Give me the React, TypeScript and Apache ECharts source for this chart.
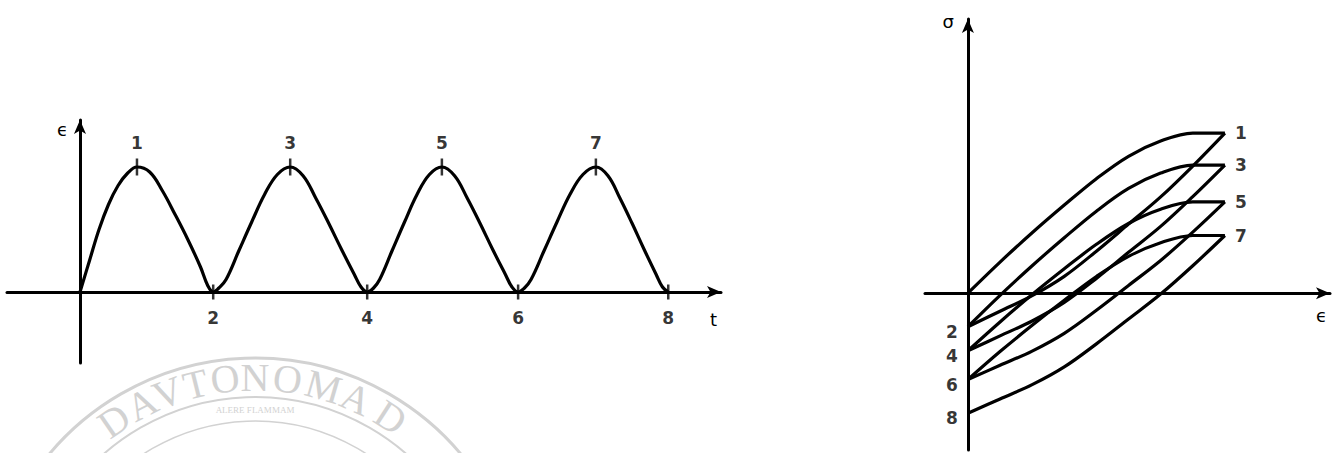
import React, { useEffect, useRef } from "react";
import * as echarts from "echarts";

// ---- strain history ϵ(t) with numbered reversal points ----
const strainT = [
  0, 0.123, 0.247, 0.37, 0.493, 0.617, 0.74,
  0.905, 1.07, 1.235, 1.4, 1.565, 1.66, 1.73,
  1.8, 1.897, 2.063, 2.23, 2.397, 2.563, 2.73,
  2.897, 3.063, 3.23, 3.397, 3.563, 3.65, 3.73,
  3.81, 3.892, 4.053, 4.215, 4.377, 4.538, 4.7,
  4.865, 5.03, 5.195, 5.36, 5.525, 5.61, 5.69,
  5.77, 5.858, 6.027, 6.195, 6.363, 6.532, 6.7,
  6.857, 7.013, 7.17, 7.327, 7.483, 7.565, 7.64,
];
const strainEps = [
  0, 0.25, 0.5, 0.7, 0.85, 0.95, 1.0,
  0.96, 0.81, 0.62, 0.42, 0.2, 0.05, 0,
  0.03, 0.1, 0.33, 0.56, 0.78, 0.94, 1.0,
  0.93, 0.75, 0.55, 0.34, 0.14, 0.04, 0,
  0.03, 0.1, 0.33, 0.56, 0.78, 0.94, 1.0,
  0.93, 0.75, 0.55, 0.34, 0.14, 0.04, 0,
  0.03, 0.1, 0.33, 0.56, 0.78, 0.94, 1.0,
  0.93, 0.75, 0.55, 0.34, 0.14, 0.04, 0,
];
const peakT = [0.74, 2.73, 4.7, 6.7];
const peakEps = [1, 1, 1, 1];
const peakIds = ["1", "3", "5", "7"];
const valleyT = [1.73, 3.73, 5.69, 7.64];
const valleyEps = [0, 0, 0, 0];
const valleyIds = ["2", "4", "6", "8"];

// ---- stress–strain branches σ(ϵ) ----
const branchEps = [0, 0.125, 0.25, 0.375, 0.5, 0.625, 0.75, 0.875, 1];
const loading01 = [0, 0.194, 0.377, 0.55, 0.715, 0.855, 0.95, 1.0, 1.0];
const unload12 = [-0.21, -0.113, -0.016, 0.105, 0.262, 0.431, 0.601, 0.794, 1.0];
const reload23 = [-0.21, -0.014, 0.171, 0.346, 0.512, 0.654, 0.75, 0.8, 0.8];
const unload34 = [-0.36, -0.267, -0.174, -0.058, 0.092, 0.255, 0.417, 0.603, 0.8];
const reload45 = [-0.36, -0.18, -0.009, 0.152, 0.305, 0.435, 0.524, 0.57, 0.57];
const unload56 = [-0.54, -0.451, -0.362, -0.251, -0.107, 0.048, 0.204, 0.381, 0.57];
const reload67 = [-0.54, -0.365, -0.201, -0.045, 0.104, 0.23, 0.315, 0.36, 0.36];
const unload78 = [-0.75, -0.661, -0.572, -0.461, -0.317, -0.162, -0.006, 0.171, 0.36];

const tipEps = [1, 1, 1, 1];
const tipSigma = [1.0, 0.8, 0.57, 0.36];
const tipIds = ["1", "3", "5", "7"];
const restEps = [0, 0, 0, 0];
const restSigma = [-0.21, -0.36, -0.54, -0.75];
const restIds = ["2", "4", "6", "8"];

// ---- faint university seal printed behind the figure ----
const sealLetters = ["D", "A", "V", "T", "O", "N", "O", "M", "A", "D"];
const sealAngles = [-34.5, -27, -20.5, -13.8, -6.9, 0, 7.5, 16, 24, 33];

const INK = "#000000";
const SEAL = "#d2d2d2";
const labelFont = {
  color: INK,
  fontFamily: "DejaVu Sans",
  fontWeight: "bold" as const,
  fontSize: 17,
  textBorderWidth: 0,
};

function pairs(xs: number[], ys: number[]) {
  return xs.map((x, i) => [x, ys[i]]);
}

function branch(name: string, ys: number[]) {
  return {
    name,
    type: "line",
    xAxisIndex: 1,
    yAxisIndex: 1,
    data: pairs(branchEps, ys),
    smooth: 0.35,
    showSymbol: false,
    symbol: "none",
    lineStyle: { color: INK, width: 3.2 },
    z: 3,
  };
}

function sealGraphics() {
  const cx = 255;
  const cy = 626;
  const items: any[] = [
    { type: "circle", z: -10, shape: { cx, cy, r: 268 }, style: { fill: "none", stroke: SEAL, lineWidth: 3 } },
    { type: "circle", z: -10, shape: { cx, cy, r: 229 }, style: { fill: "none", stroke: SEAL, lineWidth: 2 } },
    { type: "circle", z: -10, shape: { cx, cy, r: 205 }, style: { fill: "none", stroke: SEAL, lineWidth: 1.5 } },
  ];
  sealLetters.forEach((ch, i) => {
    const a = (sealAngles[i] * Math.PI) / 180;
    items.push({
      type: "text",
      z: -10,
      x: cx + 249 * Math.sin(a),
      y: cy - 249 * Math.cos(a),
      rotation: -a,
      style: {
        text: ch,
        fill: SEAL,
        font: '40px "Liberation Serif"',
        textAlign: "center",
        textVerticalAlign: "middle",
        align: "center",
        verticalAlign: "middle",
      },
    });
  });
  items.push({
    type: "text",
    z: -10,
    x: cx,
    y: 410,
    style: {
      text: "ALERE FLAMMAM",
      fill: SEAL,
      font: '9px "Liberation Serif"',
      textAlign: "center",
      textVerticalAlign: "middle",
      align: "center",
      verticalAlign: "middle",
    },
  });
  return items;
}

export default function App() {
  const ref = useRef<HTMLDivElement>(null);

  useEffect(() => {
    if (!ref.current) return;
    const chart = echarts.init(ref.current, undefined, { renderer: "svg" });

    const axisLine = {
      show: true,
      onZero: true,
      symbol: ["none", "arrow"],
      symbolSize: [9, 14],
      lineStyle: { color: INK, width: 3 },
    };
    const hidden = {
      axisTick: { show: false },
      axisLabel: { show: false },
      splitLine: { show: false },
    };
    const nameFont = { color: INK, fontFamily: "DejaVu Sans", fontSize: 18 };

    chart.setOption({
      animation: false,
      backgroundColor: "#ffffff",
      grid: [
        { left: 7, top: 120, width: 714, height: 243 },
        { left: 925, top: 19, width: 405, height: 431 },
      ],
      xAxis: [
        {
          type: "value",
          gridIndex: 0,
          min: -0.948,
          max: 8.325,
          axisLine,
          ...hidden,
          name: "t",
          nameLocation: "end",
          nameGap: -4,
          nameTextStyle: { ...nameFont, align: "right", verticalAlign: "top", padding: [18, 0, 0, 0] },
        },
        {
          type: "value",
          gridIndex: 1,
          min: -0.167,
          max: 1.409,
          axisLine,
          ...hidden,
          name: "ϵ",
          nameLocation: "end",
          nameGap: -3,
          nameTextStyle: { ...nameFont, align: "right", verticalAlign: "top", padding: [13, 0, 0, 0] },
        },
      ],
      yAxis: [
        {
          type: "value",
          gridIndex: 0,
          min: -0.568,
          max: 1.376,
          axisLine,
          ...hidden,
          name: "ϵ",
          nameLocation: "end",
          nameGap: 0,
          nameTextStyle: { ...nameFont, align: "right", verticalAlign: "top", padding: [0, 12, 0, 0] },
        },
        {
          type: "value",
          gridIndex: 1,
          min: -0.98,
          max: 1.7125,
          axisLine,
          ...hidden,
          name: "σ",
          nameLocation: "end",
          nameGap: 7,
          nameTextStyle: { ...nameFont, align: "right", verticalAlign: "top", padding: [0, 14, 0, 0] },
        },
      ],
      graphic: sealGraphics(),
      series: [
        {
          name: "strain",
          type: "line",
          xAxisIndex: 0,
          yAxisIndex: 0,
          data: pairs(strainT, strainEps),
          smooth: 0.4,
          showSymbol: false,
          symbol: "none",
          lineStyle: { color: INK, width: 3.2 },
          z: 3,
        },
        {
          name: "peaks",
          type: "scatter",
          xAxisIndex: 0,
          yAxisIndex: 0,
          data: peakT.map((t, i) => [t, peakEps[i], peakIds[i]]),
          symbol: "rect",
          symbolSize: [2.5, 17],
          itemStyle: { color: INK },
          label: {
            show: true,
            position: "top",
            distance: 7,
            formatter: (p: any) => p.value[2],
            ...labelFont,
          },
          z: 4,
        },
        {
          name: "valleys",
          type: "scatter",
          xAxisIndex: 0,
          yAxisIndex: 0,
          data: valleyT.map((t, i) => [t, valleyEps[i], valleyIds[i]]),
          symbol: "rect",
          symbolSize: [2.5, 15],
          itemStyle: { color: INK },
          label: {
            show: true,
            position: "bottom",
            distance: 10,
            formatter: (p: any) => p.value[2],
            ...labelFont,
          },
          z: 4,
        },
        branch("loading 0-1", loading01),
        branch("unloading 1-2", unload12),
        branch("reloading 2-3", reload23),
        branch("unloading 3-4", unload34),
        branch("reloading 4-5", reload45),
        branch("unloading 5-6", unload56),
        branch("reloading 6-7", reload67),
        branch("unloading 7-8", unload78),
        {
          name: "tips",
          type: "scatter",
          xAxisIndex: 1,
          yAxisIndex: 1,
          data: tipEps.map((e, i) => [e, tipSigma[i], tipIds[i]]),
          symbolSize: 2,
          itemStyle: { color: "rgba(0,0,0,0)" },
          label: {
            show: true,
            position: "right",
            distance: 9,
            formatter: (p: any) => p.value[2],
            ...labelFont,
          },
          z: 4,
        },
        {
          name: "rests",
          type: "scatter",
          xAxisIndex: 1,
          yAxisIndex: 1,
          data: restEps.map((e, i) => [e, restSigma[i], restIds[i]]),
          symbolSize: 2,
          itemStyle: { color: "rgba(0,0,0,0)" },
          label: {
            show: true,
            position: "left",
            distance: 9,
            offset: [0, 5],
            formatter: (p: any) => p.value[2],
            ...labelFont,
          },
          z: 4,
        },
      ],
    });

    return () => chart.dispose();
  }, []);

  return (
    <div
      ref={ref}
      style={{ position: "fixed", left: 0, top: 0, width: 1340, height: 453, background: "#fff" }}
    />
  );
}
